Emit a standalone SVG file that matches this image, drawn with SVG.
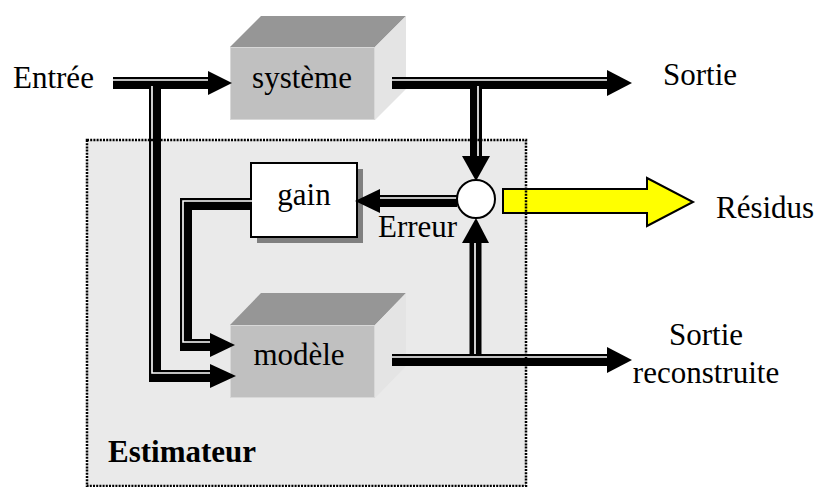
<svg xmlns="http://www.w3.org/2000/svg" width="817" height="487" viewBox="0 0 817 487">
<defs>
<style>
.b{stroke:#000;stroke-width:12;fill:none;stroke-linejoin:miter;stroke-linecap:butt}
.w{stroke:#fff;stroke-width:1.6;fill:none}
.h{fill:#000}
.top{fill:#969696}
.front{fill:#c0c0c0;stroke:#d8d8d8;stroke-width:1}
.side{fill:#e4e4e4}
</style>
</defs>
<rect width="817" height="487" fill="#fff"/>
<g font-family="Liberation Serif, Times New Roman, DejaVu Serif, serif" font-size="31" fill="#000">
<g id="estimateur">
<rect x="87" y="140" width="439" height="346" fill="#eaeaea"/>
<text x="108" y="462" font-weight="bold">Estimateur</text>
</g>
<g id="systeme">
<polygon class="top" points="230,47 261,16 406,16 375,47"/>
<polygon class="side" points="375,47 406,16 406,89 375,120"/>
<rect class="front" x="230.5" y="47.5" width="144" height="72"/>
<text x="302" y="88" text-anchor="middle">système</text>
</g>
<g id="modele">
<polygon class="top" points="230,325 261,293 406,293 375,325"/>
<polygon class="side" points="375,325 406,293 406,366 375,398"/>
<rect class="front" x="230.5" y="325.5" width="144" height="72"/>
<text x="299" y="365" text-anchor="middle">modèle</text>
</g>
<g id="gain">
<rect x="257" y="169" width="106" height="74" fill="#808080"/>
<rect x="251" y="163" width="106" height="74" fill="#fff" stroke="#000" stroke-width="2"/>
<text x="304" y="205" text-anchor="middle">gain</text>
</g>
<g id="connectors">
<path class="b" d="M113,83 H210"/>
<path class="w" d="M113,80 H208"/>
<polygon class="h" points="208,71 232,83 208,95"/>
<path class="b" d="M155,83 V382 M149,376 H212"/>
<path class="w" d="M152,86 V373 H210"/>
<polygon class="h" points="210,364 236,376 210,388"/>
<path class="b" d="M252,204 H186 V351 M180,345 H212"/>
<path class="w" d="M252,201 H183 V342 H210"/>
<polygon class="h" points="210,333 235,345 210,357"/>
<path class="b" d="M392,83 H609 M476,83 V158"/>
<path class="w" d="M392,80 H607 M478,86 V157"/>
<polygon class="h" points="607,70 632,83 607,96"/>
<polygon class="h" points="462,156 490,156 476,181"/>
<path class="b" d="M392,360 H609 M475.5,354 V240"/>
<path class="w" d="M392,357 H607 M475,354 V242"/>
<polygon class="h" points="607,347 632,360 607,373"/>
<polygon class="h" points="462,243 489,243 476,218"/>
<path class="b" d="M457,201 H378"/>
<path class="w" d="M457,198 H380"/>
<polygon class="h" points="380,189 355,201 380,213"/>
</g>
<g id="comparateur">
<circle cx="476" cy="199" r="19" fill="#fff" stroke="#000" stroke-width="2"/>
<text x="378" y="237">Erreur</text>
</g>
<g id="residus">
<polygon points="503,189 647,189 647,178 693,202 647,226 647,213 503,213" fill="#ffff00" stroke="#000" stroke-width="2" stroke-linejoin="miter"/>
<text x="716" y="218">Résidus</text>
</g>
<rect x="87" y="140" width="439" height="346" fill="none" stroke="#000" stroke-width="2.5" stroke-dasharray="2,1.2"/>
<g id="labels">
<text x="13" y="88">Entrée</text>
<text x="663" y="85">Sortie</text>
<text x="706" y="345" text-anchor="middle">Sortie</text>
<text x="706" y="383" text-anchor="middle">reconstruite</text>
</g>
</g>
</svg>
